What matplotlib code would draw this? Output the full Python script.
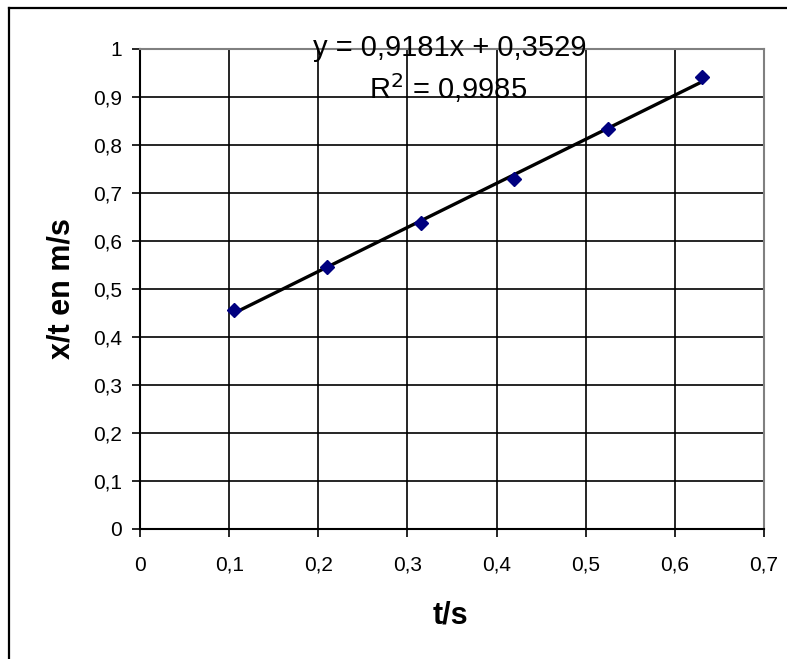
import matplotlib
matplotlib.use("Agg")
import matplotlib.pyplot as plt
from matplotlib.ticker import FuncFormatter, MultipleLocator
from matplotlib.lines import Line2D
import numpy as np

plt.rcParams['font.family'] = ['Liberation Sans', 'DejaVu Sans']

# Data
t_values = [0.105, 0.21, 0.315, 0.42, 0.525, 0.63]
xt_values = [0.456, 0.546, 0.6375, 0.729, 0.833, 0.942]
trend_slope = 0.9181
trend_intercept = 0.3529
equation_text = "y = 0,9181x + 0,3529"
r2_text = "R$^2$ = 0,9985"
x_label = "t/s"
y_label = "x/t en m/s"

fig = plt.figure(figsize=(7.87, 6.59), dpi=100)
ax = fig.add_axes([140/787, 1-529/659, (764-140)/787, (529-49)/659])

ax.set_xlim(0, 0.7)
ax.set_ylim(0, 1)
ax.xaxis.set_major_locator(MultipleLocator(0.1))
ax.yaxis.set_major_locator(MultipleLocator(0.1))
fmt = FuncFormatter(lambda v, p: ("%g" % round(v, 2)).replace('.', ','))
ax.xaxis.set_major_formatter(fmt)
ax.yaxis.set_major_formatter(fmt)

ax.grid(True, color='black', linewidth=1.2)
ax.set_axisbelow(True)
for s in ['left', 'bottom']:
    ax.spines[s].set_color('black')
    ax.spines[s].set_linewidth(1.5)
for s in ['top', 'right']:
    ax.spines[s].set_color('#808080')
    ax.spines[s].set_linewidth(1.5)

ax.tick_params(axis='x', direction='out', length=6, width=1.2, pad=24, labelsize=15)
ax.tick_params(axis='y', direction='out', length=6, width=1.2, pad=7, labelsize=15)
for lbl in ax.xaxis.get_majorticklabels():
    lbl.set_verticalalignment('baseline')

# trendline
tt = np.array([t_values[0], t_values[-1]])
ax.plot(tt, trend_slope*tt + trend_intercept, color='black', linewidth=2.4, zorder=3)
ax.plot(t_values, xt_values, linestyle='none', marker='D', markersize=7,
        color='#000080', markeredgecolor='#000080', zorder=4)

ax.text(0.348, 0.985, equation_text, ha='center', va='baseline', fontsize=21, clip_on=False, zorder=5)
ax.text(0.346, 0.896, r2_text, ha='center', va='baseline', fontsize=21, clip_on=False, zorder=5)

ax.set_xlabel(x_label, fontsize=22, fontweight='bold')
ax.set_ylabel(y_label, fontsize=22, fontweight='bold')
ax.xaxis.set_label_coords(0.497, (529-623)/480, transform=ax.transAxes)
ax.xaxis.label.set_verticalalignment('baseline')
ax.yaxis.set_label_coords((62-140)/624, 0.5, transform=ax.transAxes)
ax.yaxis.label.set_verticalalignment('center')

# outer frame (left and top visible)
fig.add_artist(Line2D([9/787, 9/787], [0, 1-8/659], transform=fig.transFigure, color='black', linewidth=1.6))
fig.add_artist(Line2D([9/787, 1], [1-8/659, 1-8/659], transform=fig.transFigure, color='black', linewidth=1.6))

fig.savefig("out.png", dpi=100)
